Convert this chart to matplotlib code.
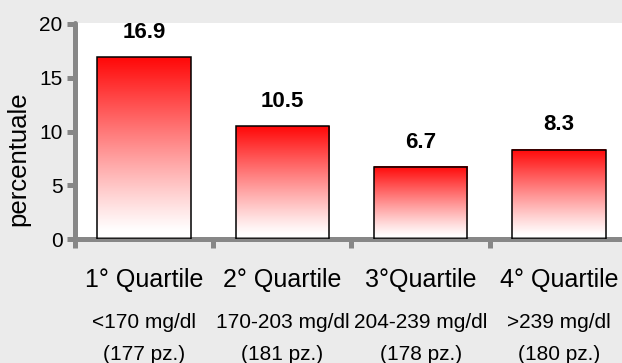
import numpy as np
import matplotlib
matplotlib.use("Agg")
import matplotlib.pyplot as plt
from matplotlib.transforms import blended_transform_factory

plt.rcParams['font.family'] = ['Liberation Sans', 'DejaVu Sans']

# dati
quartili = ["1° Quartile", "2° Quartile", "3°Quartile", "4° Quartile"]
intervalli = ["<170 mg/dl", "170-203 mg/dl", "204-239 mg/dl", ">239 mg/dl"]
pazienti = ["(177 pz.)", "(181 pz.)", "(178 pz.)", "(180 pz.)"]
percentuale = [16.9, 10.5, 6.7, 8.3]

sfondo = "#ebebeb"
grigio = "#878787"

fig = plt.figure(figsize=(6.22, 3.63), dpi=100, facecolor=sfondo)
ax = fig.add_axes([0.1206, 0.341, 0.889, 0.5965])
ax.set_facecolor("white")

x = np.arange(len(percentuale))
larghezza = 0.675

# gradiente rosso (in alto) -> bianco (in basso) dentro ogni barra
t = np.linspace(0, 1, 256)
s = np.clip((t - 0.04) / 0.96, 0, 1) ** 1.1
grad = np.ones((256, 1, 3))
grad[:, 0, 1] = 1 - 0.97 * s
grad[:, 0, 2] = 1 - 0.97 * s
for xi, v in zip(x, percentuale):
    ax.imshow(grad, extent=[xi - larghezza / 2, xi + larghezza / 2, 0, v],
              origin="lower", aspect="auto", zorder=2, interpolation="bilinear")

barre = ax.bar(x, percentuale, width=larghezza, facecolor="none",
               edgecolor="black", linewidth=1.1, zorder=3)

for xi, v in zip(x, percentuale):
    ax.annotate(f"{v:.1f}", xy=(xi, v), xytext=(0, 18), textcoords="offset points",
                ha="center", va="center", fontsize=16, fontweight="bold")

ax.set_xlim(-0.5, 3.5)
ax.set_ylim(0, 20.12)
ax.set_yticks([0, 5, 10, 15, 20])
ax.set_xticks([-0.5, 0.5, 1.5, 2.5, 3.5])
ax.set_xticklabels([])
ax.tick_params(axis="y", labelsize=15, length=5.5, width=3.6, color=grigio, pad=3.5)
ax.tick_params(axis="x", length=6.5, width=3.6, color=grigio)

for lato in ["top", "right"]:
    ax.spines[lato].set_visible(False)
for lato in ["left", "bottom"]:
    ax.spines[lato].set_color(grigio)
    ax.spines[lato].set_linewidth(3.6)
    ax.spines[lato].set_capstyle("round")

# etichette delle categorie su tre righe
trans = blended_transform_factory(ax.transData, fig.transFigure)
for xi, q, r, p in zip(x, quartili, intervalli, pazienti):
    ax.text(xi, 1 - 280 / 363, q, transform=trans, ha="center", va="center",
            fontsize=18, clip_on=False)
    ax.text(xi, 1 - 322 / 363, r, transform=trans, ha="center", va="center",
            fontsize=15, clip_on=False)
    ax.text(xi, 1 - 354 / 363, p, transform=trans, ha="center", va="center",
            fontsize=15, clip_on=False)

fig.text(18.5 / 622, 1 - 158.5 / 363, "percentuale", rotation=90,
         ha="center", va="center", fontsize=18.5)

fig.savefig("out.png", dpi=100, facecolor=sfondo)
